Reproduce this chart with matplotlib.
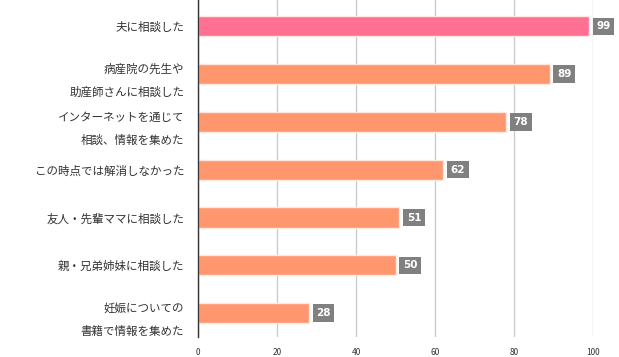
import matplotlib
matplotlib.use("Agg")
import matplotlib.pyplot as plt

plt.rcParams['font.family'] = ['Noto Sans CJK JP', 'DejaVu Sans']

categories = ["夫に相談した",
              "病産院の先生や\n助産師さんに相談した",
              "インターネットを通じて\n相談、情報を集めた",
              "この時点では解消しなかった",
              "友人・先輩ママに相談した",
              "親・兄弟姉妹に相談した",
              "妊娠についての\n書籍で情報を集めた"]
values = [99, 89, 78, 62, 51, 50, 28]
ticks = [0, 20, 40, 60, 80, 100]

colors = ['#ff7092'] + ['#ff976e'] * (len(values) - 1)

fig = plt.figure(figsize=(6.19, 3.57), dpi=100)
ax = fig.add_axes([0.32, 0.056, 0.638, 0.944])

y = list(range(len(values)))
ax.barh(y, values, height=0.42, color=colors, edgecolor='#ffe8e0', linewidth=1, zorder=3)

for yi, v in zip(y, values):
    ax.text(v + 1.9, yi, str(v), ha='left', va='center', color='white', fontsize=7.5,
            fontweight='bold', family=['DejaVu Sans'], clip_on=False,
            bbox=dict(boxstyle='square,pad=0.35', facecolor='#808080', edgecolor='none'),
            zorder=4)

ax.set_ylim(len(values) - 0.5, -0.55)
ax.set_xlim(0, 100)
ax.set_xticks(ticks)
ax.set_xticklabels([str(t) for t in ticks], fontsize=6, color='#333333')
ax.set_yticks(y)
ax.set_yticklabels(categories, fontsize=8.3, color='#333333', linespacing=2.0)
ax.tick_params(axis='y', length=0, pad=10)
ax.tick_params(axis='x', length=0, pad=8)

ax.grid(axis='x', color='#cccccc', linewidth=1, zorder=0)
for s in ['top', 'right', 'bottom']:
    ax.spines[s].set_visible(False)
ax.spines['left'].set_color('#333333')
ax.spines['left'].set_linewidth(1)
ax.spines['left'].set_zorder(5)

fig.savefig("out.png", dpi=100)
